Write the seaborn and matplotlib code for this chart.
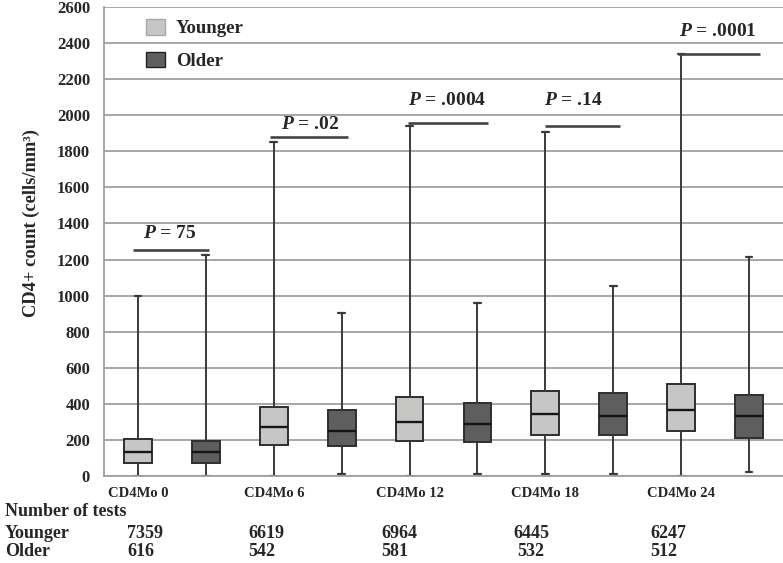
import numpy as np
import pandas as pd
import matplotlib
matplotlib.use("Agg")
import matplotlib.pyplot as plt
import seaborn as sns
from matplotlib.patches import Patch

# ---------------- data ----------------
categories = ["CD4Mo 0", "CD4Mo 6", "CD4Mo 12", "CD4Mo 18", "CD4Mo 24"]
groups = ["Younger", "Older"]

# five-number summaries (min, Q1, median, Q3, max), cells/mm3
younger_min = [0, 0, 0, 8, 0]
younger_q1 = [72, 173, 193, 224, 246]
younger_med = [134, 268, 299, 343, 365]
younger_q3 = [203, 380, 435, 470, 508]
younger_max = [1000, 1854, 1943, 1906, 2340]

older_min = [0, 8, 8, 8, 19]
older_q1 = [72, 165, 186, 224, 209]
older_med = [134, 246, 285, 330, 330]
older_q3 = [193, 365, 402, 461, 446]
older_max = [1223, 903, 958, 1053, 1216]

tests_younger = [7359, 6619, 6964, 6445, 6247]
tests_older = [616, 542, 581, 532, 512]

p_labels = ["75", ".02", ".0004", ".14", ".0001"]
p_bar_y = [1253, 1878, 1960, 1943, 2342]
p_text_y = [1344, 1950, 2081, 2081, 2468]
p_bar_x0 = [-0.07, 1.95, 3.97, 6.0, 7.95]
p_bar_x1 = [1.04, 3.09, 5.16, 7.1, 9.16]
p_text_x = [0.47, 2.53, 4.56, 6.41, 8.54]

yticks = list(range(0, 2601, 200))

# ---------------- build long table ----------------
rows = []
for i, cat in enumerate(categories):
    for g, (mn, q1, md, q3, mx) in zip(
        groups,
        [(younger_min[i], younger_q1[i], younger_med[i], younger_q3[i], younger_max[i]),
         (older_min[i], older_q1[i], older_med[i], older_q3[i], older_max[i])]):
        pos = 2 * i + (0 if g == "Younger" else 1)
        for v in (mn, q1, md, q3, mx):
            rows.append({"pos": pos, "value": v, "group": g, "category": cat})
df = pd.DataFrame(rows)

# ---------------- style ----------------
sns.set_style("white")
plt.rcParams["font.family"] = ["Liberation Serif", "DejaVu Serif"]
plt.rcParams["font.weight"] = "bold"
plt.rcParams["mathtext.fontset"] = "custom"
plt.rcParams["mathtext.it"] = "Liberation Serif:italic:bold"
plt.rcParams["mathtext.rm"] = "Liberation Serif:bold"

W, H = 783, 563
fig = plt.figure(figsize=(W / 100, H / 100), dpi=100)
ax = fig.add_axes([104 / W, 1 - 475.7 / H, (W - 104) / W, (475.7 - 7.3) / H])

pal = {"Younger": "#c6c6c4", "Older": "#5e5e5e"}
edge = "#2e2e2e"

sns.boxplot(data=df, x="pos", y="value", hue="group", native_scale=True,
            dodge=False, whis=(0, 100), width=0.41, palette=pal,
            linecolor=edge, linewidth=1.4, showfliers=False, legend=False,
            medianprops=dict(color="#151515", linewidth=1.7),
            whiskerprops=dict(color="#3a3a3a", linewidth=1.4),
            capprops=dict(color="#3a3a3a", linewidth=1.6),
            ax=ax)

# shrink caps to narrow T's
for ln in ax.lines:
    xd = np.asarray(ln.get_xdata(), dtype=float)
    yd = np.asarray(ln.get_ydata(), dtype=float)
    if len(xd) == 2 and yd[0] == yd[1]:
        span = abs(xd[1] - xd[0])
        if span < 0.3:
            c = xd.mean()
            ln.set_xdata([c - 0.05, c + 0.05])

ax.set_xlim(-0.5, 9.5)
ax.set_ylim(0, 2600)
ax.set_yticks(yticks)
ax.set_yticklabels([str(t) for t in yticks], fontsize=12, fontweight="bold")
ax.set_xticks([2 * i for i in range(len(categories))])
ax.set_xticklabels(categories, fontsize=10.5, fontweight="bold")
ax.tick_params(axis="y", length=0, pad=10)
ax.tick_params(axis="x", length=0, pad=8)
ax.set_xlabel("")
ax.set_ylabel("")
ax.yaxis.grid(True, color="#9f9f9f", linewidth=1.3)
ax.set_axisbelow(True)
for s in ["top", "right"]:
    ax.spines[s].set_visible(False)
for s in ["left", "bottom"]:
    ax.spines[s].set_color("#9f9f9f")
    ax.spines[s].set_linewidth(1.3)

# P-value annotations
for lab, by, ty, x0, x1, tx in zip(p_labels, p_bar_y, p_text_y, p_bar_x0, p_bar_x1, p_text_x):
    ax.plot([x0, x1], [by, by], color="#444444", linewidth=1.9, solid_capstyle="butt")
    ax.text(tx, ty, f"$P$ = {lab}", ha="center", va="center", fontsize=14, fontweight="bold")

# legend
handles = [Patch(facecolor=pal["Younger"], edgecolor="#a8a8a8", linewidth=1.0, label="Younger"),
           Patch(facecolor=pal["Older"], edgecolor="#222222", linewidth=1.0, label="Older")]
fig.legend(handles=handles, loc="upper left", bbox_to_anchor=(146 / W, 1 - 19 / H),
           frameon=False, handlelength=1.0, handleheight=0.9,
           handletextpad=0.6, labelspacing=0.78, borderpad=0, borderaxespad=0,
           prop={"weight": "bold", "size": 13.5})

# y label
fig.text(31 / W, 1 - 223 / H, "CD4+ count (cells/mm³)", rotation=90, ha="center",
         va="center", fontsize=13.3, fontweight="bold")

# table below
tx_young = [127, 248, 381, 513, 650]
tx_old = [127, 248, 381, 517, 650]
fig.text(5 / W, 1 - 512 / H, "Number of tests", ha="left", va="center", fontsize=13, fontweight="bold")
fig.text(5 / W, 1 - 534 / H, "Younger", ha="left", va="center", fontsize=13, fontweight="bold")
fig.text(5 / W, 1 - 552 / H, "Older", ha="left", va="center", fontsize=13, fontweight="bold")
for x, n in zip(tx_young, tests_younger):
    fig.text(x / W, 1 - 534 / H, str(n), ha="left", va="center", fontsize=13, fontweight="bold")
for x, n in zip(tx_old, tests_older):
    fig.text(x / W, 1 - 552 / H, str(n), ha="left", va="center", fontsize=13, fontweight="bold")

fig.savefig("out.png", dpi=100)
